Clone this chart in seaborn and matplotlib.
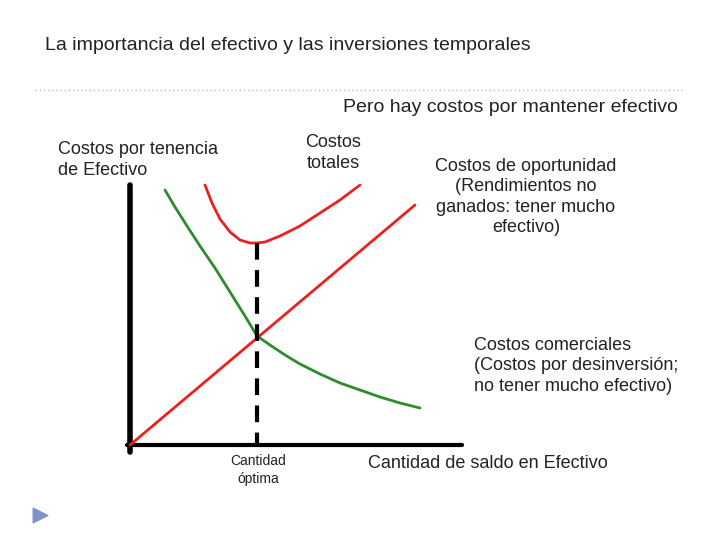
import matplotlib
matplotlib.use("Agg")
import matplotlib.pyplot as plt
import seaborn as sns

sns.set_theme(style="white")
plt.rcParams['font.family'] = ['Liberation Sans', 'DejaVu Sans']

# curve points (pixel space of the slide)
comercial_x = [165, 175, 187, 200, 215, 230, 245, 257, 270, 285, 300, 320, 340, 360, 380, 400, 420]
comercial_y = [190, 207, 226, 246, 268, 292, 316, 336, 345, 355, 364, 374, 383, 390, 397, 403, 408]
oportunidad_x = [130, 415]
oportunidad_y = [445, 205]
totales_x = [205, 212, 220, 230, 240, 250, 257, 265, 280, 300, 320, 340, 360]
totales_y = [185, 203, 219, 232, 240, 243, 243, 242, 236, 226, 213, 200, 185]
optimo_x = [257, 257]
optimo_y = [243, 445]

fig = plt.figure(figsize=(7.2, 5.4), dpi=100)
ax = fig.add_axes([0, 0, 1, 1])
ax.set_xlim(0, 720)
ax.set_ylim(540, 0)
ax.axis('off')

ax.plot([35, 685], [90, 90], color='#bbbbbb', lw=1, ls=(0, (1, 2)))
ax.plot([130, 130], [185, 452], color='black', lw=4)
ax.plot([127, 462], [445, 445], color='black', lw=3)

sns.lineplot(x=comercial_x, y=comercial_y, color='#2e8b2e', lw=2, ax=ax, sort=False)
sns.lineplot(x=oportunidad_x, y=oportunidad_y, color='#e8231f', lw=2, ax=ax, sort=False)
sns.lineplot(x=totales_x, y=totales_y, color='#e8231f', lw=2, ax=ax, sort=False)
ax.plot(optimo_x, optimo_y, color='black', lw=3, ls=(0, (4, 2.5)))

fs = 13
ax.text(45, 45, 'La importancia del efectivo y las inversiones temporales', fontsize=14, va='center', color='#222222')
ax.text(678, 108, 'Pero hay costos por mantener efectivo', fontsize=14, ha='right', va='center', color='#222222')
ax.text(58, 160, 'Costos por tenencia\nde Efectivo', fontsize=fs, va='center', linespacing=1.25, color='#222222')
ax.text(333, 153, 'Costos\ntotales', fontsize=fs, ha='center', va='center', color='#222222', linespacing=1.25)
ax.text(526, 197, 'Costos de oportunidad\n(Rendimientos no\nganados: tener mucho\nefectivo)', fontsize=fs,
        ha='center', va='center', color='#222222', linespacing=1.25)
ax.text(474, 366, 'Costos comerciales\n(Costos por desinversión;\nno tener mucho efectivo)', fontsize=fs,
        ha='left', va='center', color='#222222', linespacing=1.25)
ax.text(258, 470, 'Cantidad\nóptima', fontsize=10, ha='center', va='center', linespacing=1.3, color='#222222')
ax.text(368, 463, 'Cantidad de saldo en Efectivo', fontsize=fs, va='center', color='#222222')
ax.scatter([40], [515], marker='>', s=110, color='#7b93c8')

fig.savefig('out.png', dpi=100)
